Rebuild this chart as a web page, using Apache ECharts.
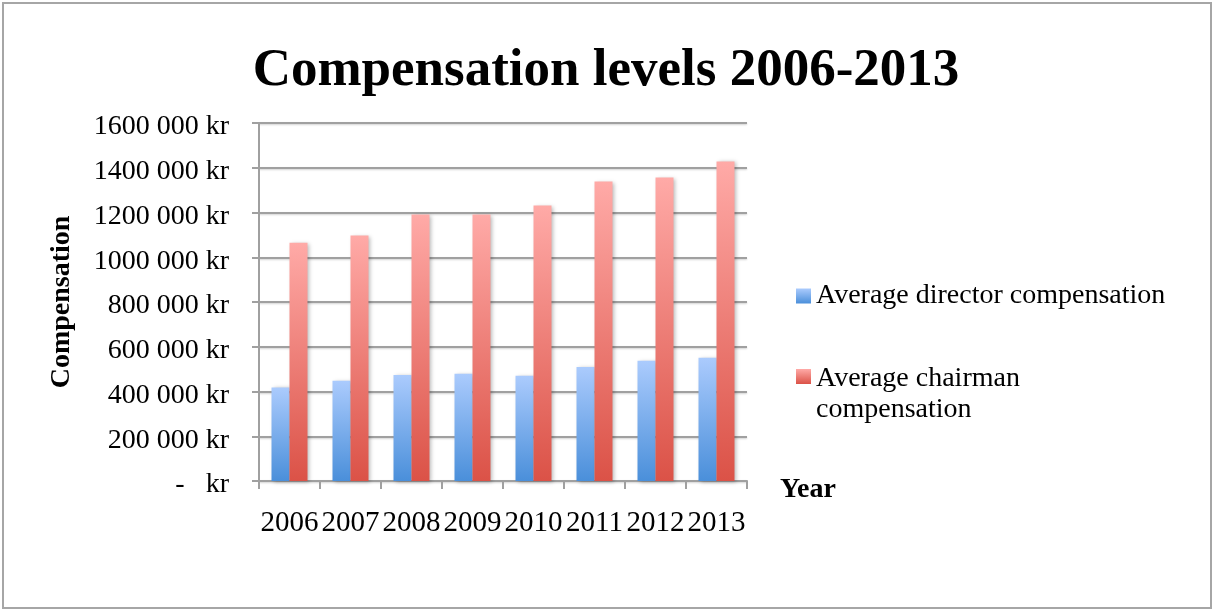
<!DOCTYPE html>
<html>
<head>
<meta charset="utf-8">
<title>Compensation levels 2006-2013</title>
<script src="https://cdn.jsdelivr.net/npm/echarts@6/dist/echarts.min.js"></script>
<style>
  html, body { margin: 0; padding: 0; background: #ffffff; }
  #chart { width: 1212px; height: 610px; }
</style>
</head>
<body>
<div id="chart"></div>
<script>
// Years on the category axis
const years = ['2006', '2007', '2008', '2009', '2010', '2011', '2012', '2013'];

// Average compensation per year, in kr
const directorComp = [418000, 448000, 474000, 479000, 470000, 510000, 537000, 551000];
const chairmanComp = [1065000, 1097000, 1191000, 1191000, 1231000, 1338000, 1356000, 1428000];

const seriesNames = ['Average director compensation', 'Average chairman compensation'];

const SERIF = '"Liberation Serif", "Times New Roman", serif';

function vGradient(top, bottom) {
  return new echarts.graphic.LinearGradient(0, 0, 0, 1, [
    { offset: 0, color: top },
    { offset: 1, color: bottom }
  ]);
}

const blueFill = vGradient('#abcbfd', '#4a8fda');
const redFill = vGradient('#ffaaa7', '#db5247');

const barShadow = {
  shadowColor: 'rgba(0,0,0,0.28)',
  shadowBlur: 4,
  shadowOffsetX: 2,
  shadowOffsetY: 1
};

const chart = echarts.init(document.getElementById('chart'), null, { renderer: 'canvas' });

chart.setOption({
  animation: false,
  backgroundColor: '#ffffff',
  title: {
    text: 'Compensation levels 2006-2013',
    left: 'center',
    top: 40,
    textStyle: {
      fontFamily: SERIF,
      fontWeight: 'bold',
      fontSize: 53,
      color: '#000000'
    }
  },
  legend: [
    {
      orient: 'vertical',
      left: 791,
      top: 277,
      itemWidth: 15,
      itemHeight: 15,
      icon: 'rect',
      data: [seriesNames[0]],
      textStyle: { fontFamily: SERIF, fontSize: 28, color: '#000000' }
    },
    {
      orient: 'vertical',
      left: 791,
      top: 325,
      itemWidth: 15,
      itemHeight: 15,
      icon: 'rect',
      data: [seriesNames[1]],
      // second entry wraps onto two lines, first line level with the swatch
      formatter: function () { return '{p| }\n{t|Average chairman}\n{t|compensation}'; },
      textStyle: {
        fontFamily: SERIF,
        fontSize: 28,
        color: '#000000',
        rich: {
          p: { fontFamily: SERIF, fontSize: 28, lineHeight: 31, height: 31 },
          t: { fontFamily: SERIF, fontSize: 28, lineHeight: 31, color: '#000000', padding: [4, 0, 0, 0] }
        }
      }
    }
  ],
  grid: {
    left: 259,
    right: 465,
    top: 123,
    bottom: 129,
    containLabel: false
  },
  xAxis: {
    type: 'category',
    data: years,
    name: 'Year',
    nameLocation: 'end',
    nameGap: 33,
    nameTextStyle: {
      fontFamily: SERIF,
      fontWeight: 'bold',
      fontSize: 28,
      color: '#000000',
      verticalAlign: 'top',
      lineHeight: 18
    },
    axisLine: { show: true, lineStyle: { color: '#a0a0a0', width: 2 } },
    axisTick: { show: true, length: 8, lineStyle: { color: '#a0a0a0', width: 2 } },
    axisLabel: {
      fontFamily: SERIF,
      fontSize: 29,
      color: '#000000',
      margin: 28,
      interval: 0
    },
    splitLine: { show: false }
  },
  yAxis: {
    type: 'value',
    min: 0,
    max: 1600000,
    interval: 200000,
    name: 'Compensation',
    nameLocation: 'middle',
    nameGap: 183,
    nameTextStyle: {
      fontFamily: SERIF,
      fontWeight: 'bold',
      fontSize: 28,
      color: '#000000'
    },
    axisLine: { show: true, lineStyle: { color: '#a0a0a0', width: 2 } },
    axisTick: { show: true, length: 7, lineStyle: { color: '#a0a0a0', width: 2 } },
    axisLabel: {
      fontFamily: SERIF,
      fontSize: 28,
      color: '#000000',
      margin: 30,
      verticalAlign: 'top',
      lineHeight: 8,
      formatter: function (v) {
        if (v === 0) return '-   kr';
        return (v / 1000) + ' 000 kr';
      }
    },
    splitLine: {
      show: true,
      lineStyle: {
        color: '#a0a0a0',
        width: 2,
        shadowColor: 'rgba(0,0,0,0.18)',
        shadowBlur: 2,
        shadowOffsetY: 1
      }
    }
  },
  series: [
    {
      name: seriesNames[0],
      type: 'bar',
      data: directorComp,
      barGap: '0%',
      barCategoryGap: '41%',
      itemStyle: Object.assign({ color: blueFill }, barShadow)
    },
    {
      name: seriesNames[1],
      type: 'bar',
      data: chairmanComp,
      barGap: '0%',
      barCategoryGap: '41%',
      itemStyle: Object.assign({ color: redFill }, barShadow)
    }
  ],
  graphic: [
    {
      type: 'rect',
      silent: true,
      z: 100,
      shape: { x: 3, y: 3, width: 1208, height: 605 },
      style: { fill: 'none', stroke: '#a6a6a6', lineWidth: 2 }
    }
  ]
});
</script>
</body>
</html>
